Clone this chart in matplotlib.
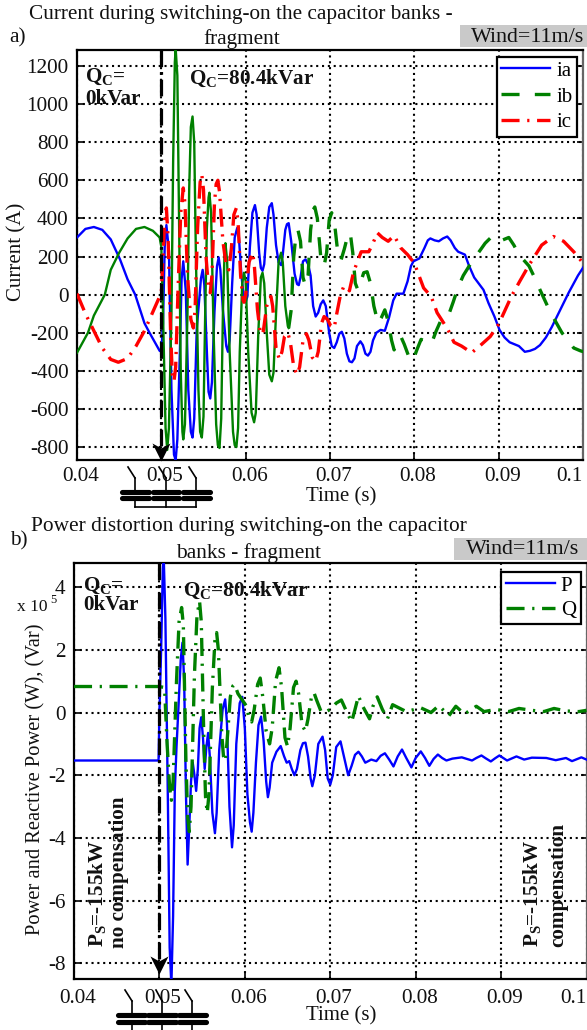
import matplotlib
matplotlib.use('Agg')
import matplotlib.pyplot as plt
from matplotlib.lines import Line2D
from matplotlib.patches import Rectangle
from matplotlib.transforms import ScaledTranslation
import numpy as np

W, H = 587, 1030
plt.rcParams.update({
    'font.family': ['Liberation Serif', 'DejaVu Serif'],
    'mathtext.fontset': 'custom',
    'mathtext.rm': 'Liberation Serif',
    'mathtext.bf': 'Liberation Serif:bold',
    'mathtext.it': 'Liberation Serif:italic',
    'lines.scale_dashes': False,
    'lines.solid_joinstyle': 'round',
    'lines.dash_joinstyle': 'round',
})

# ---------- panel a: currents ----------
ia_t = [.04,.041,.042,.043,.044,.0451,.046,.0469,.048,.0486,.0498,.05,.0502,.0504,.0506,.0509,.0512,.0515,.0517,.0519,.0522,.0524,.0526,.0529,.0532,.0535,.0537,.0539,.0542,.0547,.0549,.0551,.0554,.0556,.0558,.0560,.0563,.0566,.0568,.0570,.0573,.0577,.0579,.0581,.0584,.0587,.0590,.0592,.0595,.0598,.0600,.0602,.0605,.0608,.0611,.0613,.0616,.0618,.0620,.0622,.0625,.0628,.0631,.0633,.0636,.0639,.0642,.0644,.0647,.0649,.0651,.0654,.0658,.0661,.0663,.0665,.0668,.0671,.0674,.0677,.0680,.0683,.0686,.0689,.0692,.0695,.0699,.0702,.0705,.0708,.0711,.0714,.0717,.0720,.0723,.0726,.0729,.0732,.0736,.0739,.0742,.0745,.0748,.0751,.0755,.0760,.0765,.0770,.0775,.0779,.0787,.0792,.0796,.0799,.0806,.0812,.0816,.0819,.0824,.0829,.0834,.0839,.0843,.0848,.0852,.0860,.0865,.0871,.0882,.0888,.0895,.0901,.0907,.0913,.0924,.0931,.0937,.0943,.0949,.0956,.0963,.0973,.0983,.0994,.1005]
ia_v = [300,345,355,340,290,185,80,0,-150,-200,-295,-300,-150,250,365,230,-500,-840,-868,-760,-300,80,175,20,-500,-720,-750,-650,-180,85,130,50,-300,-510,-545,-460,-90,150,195,130,-80,-270,-300,-240,60,300,350,300,100,-20,-40,-10,250,430,470,420,220,140,125,160,350,460,480,420,260,170,155,210,340,370,375,280,110,55,50,90,175,185,160,100,-60,-115,-95,-50,-30,-60,-200,-270,-280,-250,-205,-195,-230,-310,-350,-355,-335,-270,-245,-265,-310,-320,-300,-240,-200,-185,-190,-120,-30,5,5,70,150,175,190,245,285,295,285,280,295,305,285,245,225,210,150,90,25,-45,-115,-185,-225,-250,-270,-300,-295,-285,-265,-225,-170,-80,10,100,175]
ib_t = [.04,.0413,.042,.0433,.044,.045,.046,.047,.048,.049,.0498,.05,.0502,.0505,.0507,.0509,.0512,.0514,.0516,.0517,.0519,.0521,.0523,.0525,.0526,.0528,.0531,.0533,.0535,.0537,.0539,.0541,.0544,.0546,.0548,.0550,.0552,.0554,.0556,.0557,.0559,.0562,.0565,.0567,.0569,.0571,.0573,.0575,.0576,.0578,.0581,.0585,.0587,.0589,.0591,.0593,.0596,.0598,.0600,.0603,.0607,.0610,.0612,.0615,.0618,.0620,.0622,.0625,.0628,.0631,.0633,.0636,.0639,.0642,.0644,.0647,.0650,.0651,.0654,.0657,.0660,.0662,.0665,.0668,.0671,.0674,.0677,.0680,.0682,.0685,.0689,.0693,.0696,.0699,.0702,.0705,.0709,.0713,.0717,.0721,.0724,.0727,.0730,.0733,.0736,.0740,.0744,.0748,.0752,.0757,.0761,.0765,.0769,.0773,.0776,.0780,.0784,.0788,.0793,.0798,.0803,.0808,.0814,.0820,.0826,.0832,.0840,.0846,.0852,.0858,.0865,.0876,.0884,.0892,.0901,.0912,.0918,.0924,.0936,.0942,.0948,.0960,.0968,.0975,.0989,.0997,.1005]
ib_v = [-305,-200,-110,0,130,220,295,345,355,335,300,250,-100,-700,-815,-700,-100,700,1220,1290,1150,400,-400,-720,-760,-680,-100,550,880,935,800,200,-500,-720,-750,-640,-100,350,510,535,430,-200,-680,-790,-805,-650,-100,230,270,180,-300,-720,-790,-800,-700,-300,60,115,70,-300,-620,-670,-620,-200,90,115,60,-200,-420,-455,-410,-100,170,220,170,-60,-165,-175,-80,200,330,340,280,90,45,100,340,445,460,400,200,150,220,390,430,390,230,180,240,310,325,220,60,25,60,115,120,60,-60,-150,-120,-80,-140,-240,-290,-255,-220,-260,-320,-350,-290,-235,-245,-260,-190,-130,-115,-40,40,100,150,220,270,305,280,300,260,210,150,95,35,-80,-145,-200,-280,-295,-305]
ic_t = [.04,.041,.042,.043,.044,.0449,.046,.047,.048,.049,.05,.0502,.0504,.0506,.0508,.0511,.0513,.0515,.0517,.0520,.0523,.0526,.0528,.0531,.0535,.0538,.0540,.0543,.0546,.0548,.0550,.0553,.0556,.0558,.0560,.0563,.0565,.0567,.0569,.0573,.0577,.0580,.0583,.0586,.0589,.0591,.0594,.0597,.0598,.0600,.0604,.0608,.0610,.0614,.0617,.0619,.0621,.0625,.0628,.0630,.0632,.0636,.0640,.0643,.0646,.0650,.0653,.0657,.0661,.0664,.0668,.0672,.0675,.0679,.0683,.0686,.0690,.0693,.0697,.0701,.0705,.0708,.0712,.0716,.0719,.0723,.0728,.0737,.0746,.0751,.0756,.0762,.0769,.0776,.0784,.0792,.0800,.0811,.0820,.0827,.0840,.0847,.0856,.0868,.0880,.0890,.0900,.0915,.0925,.0936,.0951,.0965,.0977,.0989,.1003]
ic_v = [5,-100,-190,-280,-340,-355,-335,-270,-190,-90,10,200,400,455,300,-200,-420,-455,-380,50,430,560,480,100,-130,-175,-80,350,590,630,550,200,30,10,100,480,580,600,540,280,150,130,240,420,455,380,100,-30,-40,0,170,220,170,-80,-190,-210,-190,-60,-15,-10,-60,-280,-340,-300,-220,-200,-250,-380,-420,-380,-240,-205,-240,-330,-350,-300,-150,-115,-130,-165,-175,-100,-10,40,45,20,120,225,225,270,325,300,280,310,245,210,165,35,-10,-95,-185,-250,-270,-305,-260,-220,-155,-10,70,155,260,305,280,225,150]
ib_dense_end = 0.0652

a_xticks = [.04,.05,.06,.07,.08,.09,.1]
a_xticklabels = ['0.04','0.05','0.06','0.07','0.08','0.09','0.1']
a_yticks = [1200,1000,800,600,400,200,0,-200,-400,-600,-800]

# ---------- panel b: powers (x 10^5) ----------
p_t = [.04,.0499,.05,.0502,.0504,.0505,.0507,.0510,.0512,.0514,.0516,.0518,.0520,.0522,.0525,.0527,.0529,.0531,.0533,.0535,.0537,.0539,.0541,.0543,.0545,.0547,.0549,.0551,.0553,.0555,.0557,.0559,.0562,.0565,.0567,.0570,.0574,.0577,.0579,.0582,.0585,.0587,.0590,.0594,.0597,.0600,.0603,.0606,.0608,.0610,.0613,.0616,.0619,.0622,.0625,.0627,.0629,.0632,.0637,.0642,.0646,.0649,.0652,.0655,.0658,.0661,.0665,.0668,.0671,.0674,.0677,.0679,.0682,.0686,.0691,.0694,.0697,.0700,.0703,.0707,.0712,.0716,.0721,.0725,.0729,.0733,.0737,.0741,.0748,.0754,.0759,.0764,.0769,.0774,.0779,.0784,.0789,.0795,.0800,.0806,.0811,.0816,.0821,.0826,.0831,.0836,.0843,.0854,.0860,.0866,.0871,.0877,.0882,.0888,.0893,.0898,.0907,.0918,.0927,.0936,.0953,.0964,.0976,.0983,.0994,.1]
p_v = [-1.53,-1.53,0,2,4.6,5,3,-3,-7.5,-8.7,-6.5,-2.5,-1.1,0,1.7,2.23,1,-2.5,-4.85,-3.6,-2.2,-1.6,-2.0,-2.5,-1.8,-.5,-.15,-.8,-1.8,-1.1,-.65,-1.4,-3.2,-3.85,-3.2,-1.2,.1,.42,-.3,-3,-4.3,-3.6,-1,.3,.5,-.5,-2.6,-3.5,-3.8,-3.2,-1.6,-.4,-.13,-.9,-2.2,-2.7,-2.4,-1.6,-1.25,-1.07,-1.4,-1.6,-1.55,-1.8,-2,-1.8,-1.2,-.98,-.96,-1.4,-2.1,-2.35,-2,-1,-.77,-1.2,-2.1,-2.3,-2,-1.1,-.92,-1.4,-2,-1.7,-1.35,-1.25,-1.4,-1.6,-1.5,-1.55,-1.38,-1.3,-1.5,-1.72,-1.4,-1.18,-1.45,-1.75,-1.45,-1.24,-1.45,-1.7,-1.48,-1.34,-1.45,-1.53,-1.47,-1.43,-1.48,-1.53,-1.45,-1.37,-1.46,-1.56,-1.46,-1.37,-1.53,-1.4,-1.5,-1.44,-1.45,-1.52,-1.45,-1.55,-1.43,-1.5]
q_t = [.04,.0499,.0506,.0509,.0512,.0514,.0516,.0520,.0523,.0526,.0528,.0531,.0533,.0535,.0537,.0541,.0544,.0547,.0549,.0552,.0554,.0556,.0558,.0562,.0565,.0567,.0569,.0573,.0575,.0577,.0579,.0583,.0586,.0588,.0592,.0597,.0602,.0605,.0608,.0611,.0615,.0618,.0621,.0625,.0629,.0632,.0636,.0640,.0643,.0647,.0650,.0653,.0657,.0660,.0663,.0667,.0671,.0674,.0678,.0681,.0684,.0689,.0693,.0700,.0707,.0713,.0718,.0725,.0729,.0733,.0738,.0746,.0750,.0755,.0761,.0767,.0773,.0789,.0806,.0818,.0827,.0839,.0847,.0857,.0871,.0880,.0894,.0909,.0921,.0936,.0950,.0962,.0976,.0991,.1]
q_v = [.83,.83,.8,-1,-2.4,-2.8,-2.2,1,2.9,3.35,2.8,-1.5,-3.3,-3.8,-3,1.2,3.1,3.55,2.9,-.8,-2.7,-3.2,-2.6,.8,2.3,2.55,2,-.7,-1.4,-1.55,-1,.5,.85,.9,.6,.4,.2,-.2,-.3,.1,.9,1.1,.5,-.6,-1.0,-.5,1,1.43,.8,-.8,-1.08,-.5,.8,1,.6,-.4,-.6,-.2,.5,.63,.4,.05,0,.1,.3,.4,.1,-.3,.1,.53,.2,-.2,.2,.5,.1,-.2,.25,.03,.15,0,.22,-.1,.2,-.05,.2,.03,.1,.03,.13,.07,.03,.13,.05,.03,.07]

b_xticks = [.04,.05,.06,.07,.08,.09,.1]
b_xticklabels = ['0.04','0.05','0.06','0.07','0.08','0.09','0.1']
b_yticks = [4,2,0,-2,-4,-6,-8]

DASHDOT = (0, (13, 5.5, 1.6, 5.5))
DASHED = (0, (13, 11))
BLUE, GREEN, RED = '#0000ff', '#008000', '#ff0000'
TICK_FS = 15.2
fig = plt.figure(figsize=(W / 100, H / 100), dpi=100)


def make_axes(l, t, r, b):
    return fig.add_axes([l / W, 1 - b / H, (r - l) / W, (b - t) / H])


def px_text(x, y, s, **kw):
    kw.setdefault('ha', 'center')
    kw.setdefault('va', 'center')
    kw.setdefault('color', '#111111')
    return fig.text(x / W, 1 - y / H, s, **kw)


def px_line(xs, ys, **kw):
    fig.add_artist(Line2D([x / W for x in xs], [1 - y / H for y in ys], color='black', **kw))


def style(ax, xt, xl, yt, yl, xpad):
    ax.set_xticks(xt)
    ax.set_xticklabels(xl, fontsize=TICK_FS, color='#111111')
    ax.set_yticks(yt)
    ax.set_yticklabels(yl, fontsize=TICK_FS, color='#111111')
    ax.grid(True, color='black', lw=1.5, ls=(0, (1.5, 2.7)))
    ax.set_axisbelow(True)
    ax.tick_params(direction='in', length=4, width=1.2, pad=6, right=True, top=False)
    ax.tick_params(axis='x', pad=xpad)
    for s in ax.spines.values():
        s.set_linewidth(1.6)
    ax.spines['right'].set_color('#666666')
    labs = ax.get_xticklabels()
    for lab in labs[:-1]:
        lab.set_transform(lab.get_transform() + ScaledTranslation(3.5 / 100, 0, fig.dpi_scale_trans))
    labs[-1].set_ha('right')


ARROW = [(-1, 1), (0, -1), (1, 1), (0, .45), (-1, 1)]


def switch_line(ax, y0, y1):
    ax.plot([.05, .05], [y0, y1], color='black', lw=2.3, ls=(0, (12, 3.5, 2, 3.5)), zorder=6)
    ax.plot([.05], [y1], marker=ARROW, ms=13, color='black', mew=0, zorder=7, clip_on=False)


def capacitors(xbars, y1, y2, sw, ybot):
    for x0, x1 in xbars:
        for y in (y1, y2):
            px_line([x0, x1], [y, y], lw=3.7, solid_capstyle='round')
    for (xa, ya, xb, yb) in sw:
        px_line([xa, xb], [ya, yb], lw=1.2)
        px_line([xb, xb], [yb, y1], lw=1.2)
        px_line([xb, xb], [y2, ybot], lw=1.2)
    px_line([sw[0][2], sw[2][2]], [ybot, ybot], lw=1.2)


def banner(x0, x1, y0, y1, tx, ty):
    fig.add_artist(Rectangle((x0 / W, 1 - y1 / H), (x1 - x0) / W, (y1 - y0) / H,
                             transform=fig.transFigure, color='#c9c9c9', lw=0, zorder=-1))
    px_text(tx, ty, 'Wind=11m/s', fontsize=15.8)


Q_C = r'$\mathbf{Q_{C}}$'
P_S = r'$\mathbf{P_{S}}$'
BOLD = dict(fontweight='bold', fontsize=15.2, color='#111111')
LEG = dict(loc='upper left', bbox_transform=fig.transFigure, fontsize=15, frameon=True, fancybox=False,
           framealpha=1, edgecolor='black', handlelength=2.35, handletextpad=.3, borderpad=.22, borderaxespad=0)

# ---------- panel a ----------
axa = make_axes(77, 50, 583, 460)
axa.set_xlim(.04, .1)
axa.set_ylim(-868, 1284)
style(axa, a_xticks, a_xticklabels, a_yticks, [str(v) for v in a_yticks], 5)
ib_t_arr, ib_v_arr = np.array(ib_t), np.array(ib_v)
dense = ib_t_arr <= ib_dense_end
sparse = ib_t_arr >= ib_t_arr[dense][-1]
axa.plot(ia_t, ia_v, color=BLUE, lw=1.7, label='ia', zorder=3)
axa.plot(ib_t_arr[dense], ib_v_arr[dense], color=GREEN, lw=1.7, zorder=3)
axa.plot(ib_t_arr[sparse], ib_v_arr[sparse], color=GREEN, lw=2.4, ls=DASHED, label='ib', zorder=3)
axa.plot(ic_t, ic_v, color=RED, lw=2.4, ls=DASHDOT, label='ic', zorder=4)
switch_line(axa, 1284, -825)
leg = axa.legend(bbox_to_anchor=(496.5 / W, 1 - 56.5 / H), labelspacing=.3, **LEG)
leg.get_frame().set_linewidth(1.6)
leg.set_zorder(8)

px_text(241, 14, 'Current during switching-on the capacitor banks -', fontsize=15.3)
px_text(242, 39, 'fragment', fontsize=15.3)
px_text(18, 38, 'a)', fontsize=15.3)
px_text(17, 252, 'Current (A)', rotation=90, fontsize=15)
px_text(341, 497, 'Time (s)', fontsize=15)
banner(460, 587, 25, 47, 528, 37)
px_text(85, 77, Q_C + '=', ha='left', **BOLD)
px_text(85, 99, '0kVar', ha='left', **BOLD)
px_text(189, 78, Q_C + '=80.4kVar', ha='left', **BOLD)
capacitors([(122, 149), (153, 179), (183, 210)], 492, 498,
           [(128, 467, 135, 478), (159, 467, 166, 478), (189, 467, 196, 478)], 507)

# ---------- panel b ----------
axb = make_axes(74, 563, 586.5, 979)
axb.set_xlim(.04, .1)
axb.set_ylim(-8.5, 4.77)
style(axb, b_xticks, b_xticklabels, b_yticks, [str(v) for v in b_yticks], 7)
axb.plot(p_t, p_v, color=BLUE, lw=1.7, label='P', zorder=3)
axb.plot(q_t, q_v, color=GREEN, lw=2.4, ls=DASHDOT, label='Q', zorder=4)
switch_line(axb, 4.77, -8.05)
leg = axb.legend(bbox_to_anchor=(501 / W, 1 - 571.5 / H), labelspacing=.22, **LEG)
leg.get_frame().set_linewidth(1.6)
leg.set_zorder(8)

px_text(249, 527, 'Power distortion during switching-on the capacitor', fontsize=15.4)
px_text(249, 553, 'banks - fragment', fontsize=15.4)
px_text(19, 541, 'b)', fontsize=15.3)
px_text(36, 779, 'Power and Reactive Power (W), (Var)', rotation=90, fontsize=14.8)
px_text(341, 1016, 'Time (s)', fontsize=15)
banner(454, 587, 538, 560, 523, 550)
px_text(17, 607, 'x 10', ha='left', fontsize=12.5)
px_text(50, 600, '5', ha='left', fontsize=9)
px_text(83, 586, Q_C + '=', ha='left', **BOLD)
px_text(83, 605, '0kVar', ha='left', **BOLD)
px_text(183, 590, Q_C + '=80.4kVar', ha='left', **BOLD)
px_text(97, 947, P_S + '=-155kW', rotation=90, va='bottom', **BOLD)
px_text(119, 948, 'no compensation', rotation=90, va='bottom', **BOLD)
px_text(532, 947, P_S + '=-155kW', rotation=90, va='bottom', **BOLD)
px_text(558, 947, 'compensation', rotation=90, va='bottom', **BOLD)
capacitors([(118, 145), (148, 176), (179, 206)], 1015, 1022,
           [(125, 990, 132, 1001), (156, 990, 162, 1001), (185, 990, 192, 1001)], 1036)

fig.savefig('out.png', dpi=100)
